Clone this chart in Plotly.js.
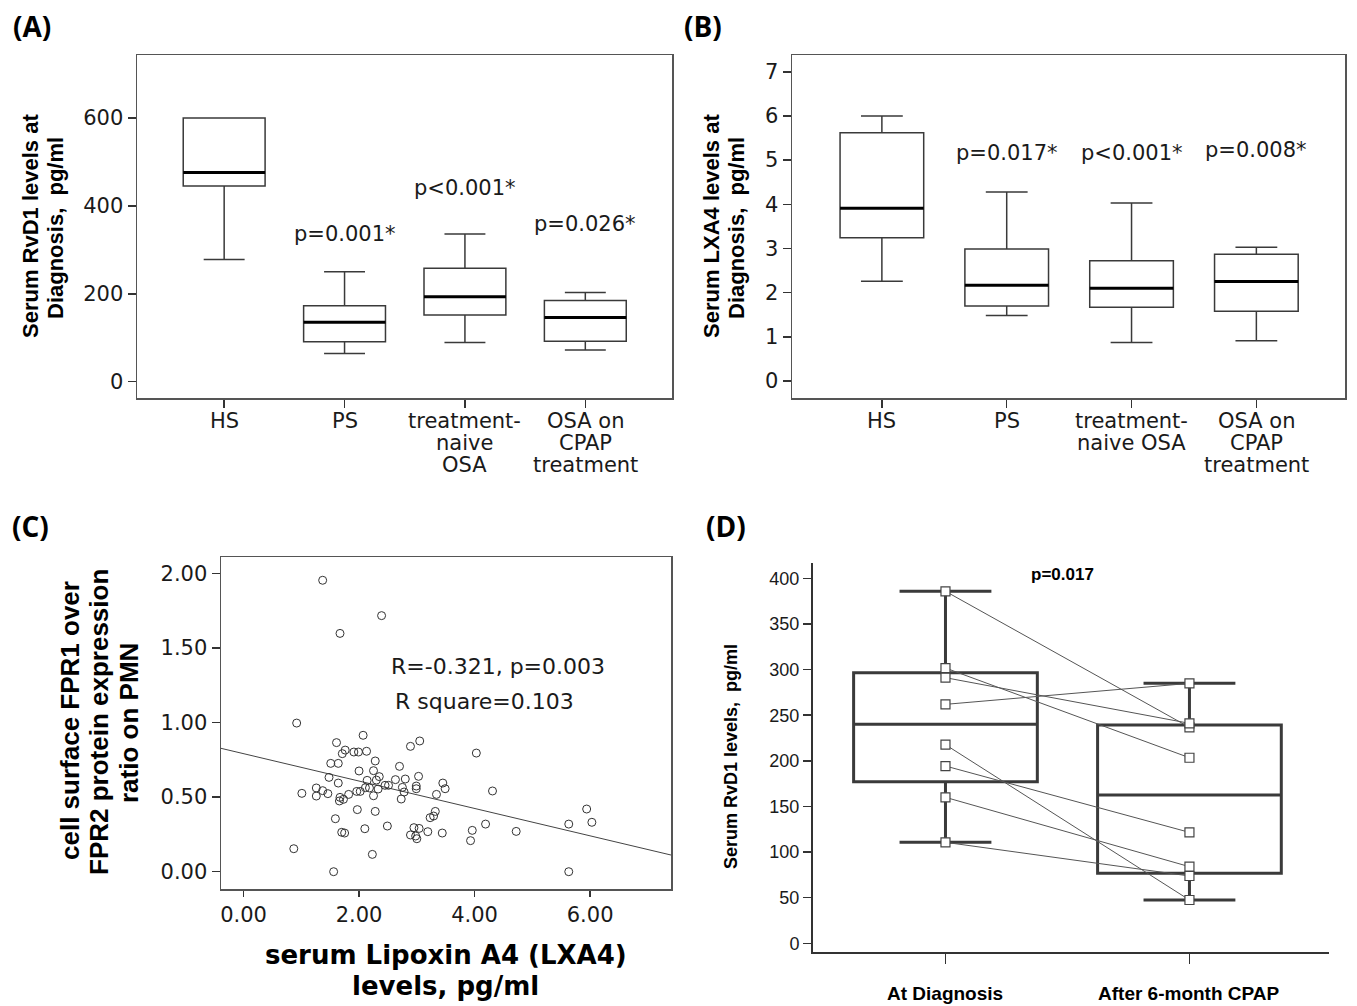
<!DOCTYPE html>
<html>
<head>
<meta charset="utf-8">
<script src="https://cdn.plot.ly/plotly-3.0.1.min.js"></script>
<style>html,body{margin:0;padding:0;background:#fff;}#chart{width:1357px;height:1006px;}</style>
</head>
<body>
<div id="chart"></div>
<script>
// ---------- DATA ----------
// Panel A: serum RvD1 at diagnosis (pg/ml)
const groupsA = ['HS', 'PS', 'treatment-<br>naive<br>OSA', 'OSA on<br>CPAP<br>treatment'];
const rvd1Lower  = [278, 64, 89, 72];
const rvd1Q1     = [445, 91, 152, 92];
const rvd1Median = [476, 135, 193, 146];
const rvd1Q3     = [600, 173, 258, 185];
const rvd1Upper  = [600, 250, 336, 203];
const rvd1PText  = ['', 'p=0.001*', 'p<0.001*', 'p=0.026*'];
const rvd1PY     = [null, 336, 441, 359];
const rvd1Ticks  = [0, 200, 400, 600];

// Panel B: serum LXA4 at diagnosis (pg/ml)
const groupsB = ['HS', 'PS', 'treatment-<br>naive OSA', 'OSA on<br>CPAP<br>treatment'];
const lxa4Lower  = [2.26, 1.48, 0.87, 0.91];
const lxa4Q1     = [3.24, 1.70, 1.67, 1.58];
const lxa4Median = [3.91, 2.17, 2.10, 2.25];
const lxa4Q3     = [5.62, 2.99, 2.72, 2.87];
const lxa4Upper  = [6.00, 4.28, 4.03, 3.03];
const lxa4PText  = ['', 'p=0.017*', 'p<0.001*', 'p=0.008*'];
const lxa4PY     = [null, 5.15, 5.16, 5.22];
const lxa4Ticks  = [0, 1, 2, 3, 4, 5, 6, 7];

// Panel C: serum LXA4 vs FPR1/FPR2 ratio on PMN
const scatterLxa4 = [1.37, 2.39, 1.67, 0.92, 2.07, 1.61, 3.05, 2.89, 1.76, 1.71, 1.91, 1.99, 2.13, 4.03,
  1.51, 1.64, 2.28, 2.70, 2.00, 2.25, 1.48, 2.35, 3.03, 2.14, 2.30, 2.63, 2.80, 3.45, 1.64, 1.01,
  1.26, 1.37, 1.46, 1.26, 1.82, 1.96, 2.02, 2.11, 2.18, 2.45, 2.51, 2.33, 2.25, 2.75, 2.78, 2.73,
  2.99, 2.99, 3.49, 3.34, 4.31, 1.67, 1.66, 1.73, 1.97, 2.28, 1.59, 3.32, 3.29, 3.23, 5.94, 6.03,
  5.63, 4.19, 2.49, 2.10, 2.95, 3.04, 3.19, 3.44, 3.96, 4.72, 1.70, 1.75, 2.89, 2.98, 3.00, 3.93,
  0.87, 2.23, 1.56, 5.63];
const scatterRatio = [1.953, 1.716, 1.597, 0.996, 0.914, 0.865, 0.876, 0.840, 0.815, 0.791, 0.802, 0.802, 0.807, 0.795,
  0.726, 0.726, 0.742, 0.706, 0.675, 0.677, 0.632, 0.637, 0.639, 0.612, 0.614, 0.617, 0.621, 0.594, 0.594, 0.525,
  0.561, 0.543, 0.523, 0.507, 0.518, 0.538, 0.538, 0.563, 0.561, 0.579, 0.579, 0.554, 0.509, 0.565, 0.534, 0.487,
  0.574, 0.556, 0.556, 0.518, 0.541, 0.498, 0.474, 0.485, 0.416, 0.404, 0.355, 0.404, 0.373, 0.362, 0.420, 0.331,
  0.319, 0.319, 0.306, 0.288, 0.295, 0.290, 0.268, 0.259, 0.277, 0.270, 0.264, 0.259, 0.246, 0.239, 0.221, 0.208,
  0.154, 0.116, 0.000, 0.000];
const fitIntercept = 0.791;
const fitSlope = -0.0918;
const statsC = ['R=-0.321, p=0.003', 'R square=0.103'];
const cXTicks = [0, 2, 4, 6];
const cYTicks = [0, 0.5, 1, 1.5, 2];

// Panel D: serum RvD1 at diagnosis vs after 6-month CPAP
const groupsD = ['At Diagnosis', 'After 6-month CPAP'];
const dLower  = [110.7, 47.5];
const dQ1     = [177.2, 76.8];
const dMedian = [240.2, 162.5];
const dQ3     = [296.6, 239.2];
const dUpper  = [385.8, 284.9];
const pairDiagnosis = [385.8, 301.7, 291.1, 261.9, 217.7, 194.3, 160.0, 110.7];
const pairCpap      = [236.7, 203.4, 241.1, 284.9, 47.5, 121.6, 84.0, 73.8];
const dPText = 'p=0.017';
const dYTicks = [0, 50, 100, 150, 200, 250, 300, 350, 400];

// ---------- LAYOUT HELPERS ----------
const W = 1357, H = 1006;
const px = v => v / W;
const py = v => 1 - v / H;
const ARIAL = 'Liberation Sans, Arial, sans-serif';
const DEJAVU = 'DejaVu Sans, sans-serif';
const INK = '#1a1a1a';

function ann(text, x, y, o) {
  return Object.assign({text: text, x: x, y: y, xref: 'paper', yref: 'paper', showarrow: false,
    xanchor: 'center', yanchor: 'middle', font: {family: DEJAVU, size: 21, color: INK}}, o || {});
}

const traces = [];
const annotations = [];

function boxPanel(xa, ya, lower, q1, med, q3, upper, boxW, lineW, lineColor) {
  const pos = med.map((_, i) => i);
  traces.push({type: 'box', xaxis: xa, yaxis: ya, x: pos, q1: q1, median: med, q3: q3,
    lowerfence: lower, upperfence: upper, width: boxW, whiskerwidth: 0.5, boxpoints: false,
    fillcolor: 'rgba(0,0,0,0)', line: {color: lineColor, width: lineW}, hoverinfo: 'skip', showlegend: false});
}
function medianOverlay(xa, ya, med, boxW, w) {
  const xs = [], ys = [];
  med.forEach((m, i) => { xs.push(i - boxW / 2, i + boxW / 2, null); ys.push(m, m, null); });
  traces.push({type: 'scatter', mode: 'lines', xaxis: xa, yaxis: ya, x: xs, y: ys,
    line: {color: '#000', width: w}, hoverinfo: 'skip', showlegend: false});
}

// Panel A
boxPanel('x', 'y', rvd1Lower, rvd1Q1, rvd1Median, rvd1Q3, rvd1Upper, 0.68, 1.5, '#3a3a3a');
medianOverlay('x', 'y', rvd1Median, 0.68, 3);
// Panel B
boxPanel('x2', 'y2', lxa4Lower, lxa4Q1, lxa4Median, lxa4Q3, lxa4Upper, 0.67, 1.5, '#3a3a3a');
medianOverlay('x2', 'y2', lxa4Median, 0.67, 3);

// Panel C
const cXRange = [-0.39, 7.40];
traces.push({type: 'scatter', mode: 'lines', xaxis: 'x3', yaxis: 'y3', x: cXRange,
  y: cXRange.map(v => fitIntercept + fitSlope * v), line: {color: '#444', width: 1},
  hoverinfo: 'skip', showlegend: false});
traces.push({type: 'scatter', mode: 'markers', xaxis: 'x3', yaxis: 'y3', x: scatterLxa4, y: scatterRatio,
  marker: {symbol: 'circle-open', size: 8, color: '#333', line: {width: 1, color: '#333'}},
  hoverinfo: 'skip', showlegend: false});

// Panel D
boxPanel('x4', 'y4', dLower, dQ1, dMedian, dQ3, dUpper, 0.753, 3, '#3a3a3a');
{
  const xs = [], ys = [];
  pairDiagnosis.forEach((v, i) => { xs.push(0, 1, null); ys.push(v, pairCpap[i], null); });
  traces.push({type: 'scatter', mode: 'lines', xaxis: 'x4', yaxis: 'y4', x: xs, y: ys,
    line: {color: '#555', width: 1}, hoverinfo: 'skip', showlegend: false});
  traces.push({type: 'scatter', mode: 'markers', xaxis: 'x4', yaxis: 'y4',
    x: pairDiagnosis.map(() => 0).concat(pairCpap.map(() => 1)), y: pairDiagnosis.concat(pairCpap),
    marker: {symbol: 'square', size: 9, color: '#fff', line: {width: 1.2, color: '#444'}},
    hoverinfo: 'skip', showlegend: false});
}

// ---------- ANNOTATIONS ----------
// panel letters
const LETTERFONT = {family: 'Open Sans, Lato, sans-serif', size: 28, color: '#000', weight: 'bold'};
[['(A)', 32, 26], ['(B)', 703, 26], ['(C)', 30, 526], ['(D)', 726, 526]].forEach(l =>
  annotations.push(ann(l[0], px(l[1]), py(l[2]), {font: LETTERFONT})));

// category labels (A, B, D) line by line
function catLabels(labels, xa, firstY, step, font) {
  labels.forEach((lab, i) => {
    lab.split('<br>').forEach((line, k) => {
      annotations.push({text: line, xref: xa, yref: 'paper', x: i, y: py(firstY + k * step),
        showarrow: false, xanchor: 'center', yanchor: 'middle', font: font});
    });
  });
}
catLabels(groupsA, 'x', 421, 22, {family: DEJAVU, size: 21, color: INK});
catLabels(groupsB, 'x2', 421, 22, {family: DEJAVU, size: 21, color: INK});
catLabels(groupsD, 'x4', 993, 22, {family: ARIAL, size: 19, color: '#000', weight: 'bold'});

// p-values
rvd1PText.forEach((t, i) => { if (t) annotations.push({text: t, xref: 'x', yref: 'y', x: i, y: rvd1PY[i],
  showarrow: false, font: {family: DEJAVU, size: 21, color: INK}}); });
lxa4PText.forEach((t, i) => { if (t) annotations.push({text: t, xref: 'x2', yref: 'y2', x: i, y: lxa4PY[i],
  showarrow: false, font: {family: DEJAVU, size: 21, color: INK}}); });
annotations.push({text: dPText, xref: 'x4', yref: 'y4', x: 0.48, y: 404,
  showarrow: false, font: {family: ARIAL, size: 17, color: '#000', weight: 'bold'}});
annotations.push({text: statsC[0], xref: 'x3', yref: 'y3', x: 2.51, y: 1.378, xanchor: 'left',
  showarrow: false, font: {family: DEJAVU, size: 22, color: INK}});
annotations.push({text: statsC[1], xref: 'x3', yref: 'y3', x: 2.58, y: 1.139, xanchor: 'left',
  showarrow: false, font: {family: DEJAVU, size: 22, color: INK}});

// axis titles (line by line to match tight spacing)
const boldArial = s => ({family: ARIAL, size: s, color: '#000', weight: 'bold'});
annotations.push(ann('Serum RvD1 levels at', px(31), py(226), {textangle: -90, font: boldArial(22)}));
annotations.push(ann('Diagnosis,  pg/ml', px(55), py(228), {textangle: -90, font: boldArial(22)}));
annotations.push(ann('Serum LXA4 levels at', px(712), py(226), {textangle: -90, font: boldArial(22)}));
annotations.push(ann('Diagnosis,  pg/ml', px(736), py(228), {textangle: -90, font: boldArial(22)}));
annotations.push(ann('cell surface FPR1 over', px(70), py(721), {textangle: -90, font: boldArial(26)}));
annotations.push(ann('FPR2 protein expression', px(99), py(722), {textangle: -90, font: boldArial(26)}));
annotations.push(ann('ratio on PMN', px(129), py(723), {textangle: -90, font: boldArial(26)}));
const cTitleFont = {family: DEJAVU, size: 26, color: '#000', weight: 'bold'};
annotations.push(ann('serum Lipoxin A4 (LXA4)', px(446), py(955), {font: cTitleFont}));
annotations.push(ann('levels, pg/ml', px(446), py(986), {font: cTitleFont}));
annotations.push(ann('Serum RvD1 levels,  pg/ml', px(731), py(757), {textangle: -90, font: boldArial(18)}));

// ---------- AXES ----------
const baseAxis = {showgrid: false, zeroline: false, showline: true, ticks: 'outside', fixedrange: true};
const layout = {
  width: W, height: H, margin: {l: 0, r: 0, t: 0, b: 0}, paper_bgcolor: '#fff', plot_bgcolor: '#fff',
  showlegend: false, annotations: annotations,
  xaxis: Object.assign({}, baseAxis, {domain: [px(137), px(672)], range: [-0.724, 3.72], mirror: true,
    linecolor: '#555', linewidth: 1.5, tickvals: [0, 1, 2, 3], showticklabels: false, ticklen: 8, tickcolor: '#333', tickwidth: 1.5, anchor: 'y'}),
  yaxis: Object.assign({}, baseAxis, {domain: [py(398), py(55)], range: [-37, 743], mirror: true,
    linecolor: '#555', linewidth: 1.5, tickvals: rvd1Ticks, ticklen: 8, tickcolor: '#333', tickwidth: 1.5,
    tickfont: {family: DEJAVU, size: 21, color: INK}, anchor: 'x'}),
  xaxis2: Object.assign({}, baseAxis, {domain: [px(792), px(1345)], range: [-0.72, 3.71], mirror: true,
    linecolor: '#555', linewidth: 1.5, tickvals: [0, 1, 2, 3], showticklabels: false, ticklen: 8, tickcolor: '#333', tickwidth: 1.5, anchor: 'y2'}),
  yaxis2: Object.assign({}, baseAxis, {domain: [py(398), py(55)], range: [-0.385, 7.38], mirror: true,
    linecolor: '#555', linewidth: 1.5, tickvals: lxa4Ticks, ticklen: 8, tickcolor: '#333', tickwidth: 1.5,
    tickfont: {family: DEJAVU, size: 21, color: INK}, anchor: 'x2'}),
  xaxis3: Object.assign({}, baseAxis, {domain: [px(221), px(671)], range: cXRange, mirror: true,
    linecolor: '#555', linewidth: 1.5, tickvals: cXTicks, ticktext: cXTicks.map(v => v.toFixed(2)), ticklen: 6,
    tickcolor: '#333', tickwidth: 1.5, tickfont: {family: DEJAVU, size: 21, color: INK}, anchor: 'y3'}),
  yaxis3: Object.assign({}, baseAxis, {domain: [py(889), py(557)], range: [-0.116, 2.109], mirror: true,
    linecolor: '#555', linewidth: 1.5, tickvals: cYTicks, ticktext: cYTicks.map(v => v.toFixed(2)), ticklen: 8,
    tickcolor: '#333', tickwidth: 1.5, tickfont: {family: DEJAVU, size: 21, color: INK}, anchor: 'x3'}),
  xaxis4: Object.assign({}, baseAxis, {domain: [px(813), px(1329)], range: [-0.543, 1.572],
    linecolor: '#333', linewidth: 2, tickvals: [0, 1], showticklabels: false, ticklen: 10, tickcolor: '#333', tickwidth: 1.5, anchor: 'y4'}),
  yaxis4: Object.assign({}, baseAxis, {domain: [py(952), py(563)], range: [-9.5, 416.8],
    linecolor: '#333', linewidth: 2, tickvals: dYTicks, ticklen: 8, tickcolor: '#333', tickwidth: 1.5,
    tickfont: {family: ARIAL, size: 18, color: INK}, anchor: 'x4'})
};

Plotly.newPlot('chart', traces, layout, {staticPlot: true, displayModeBar: false});
</script>
</body>
</html>
